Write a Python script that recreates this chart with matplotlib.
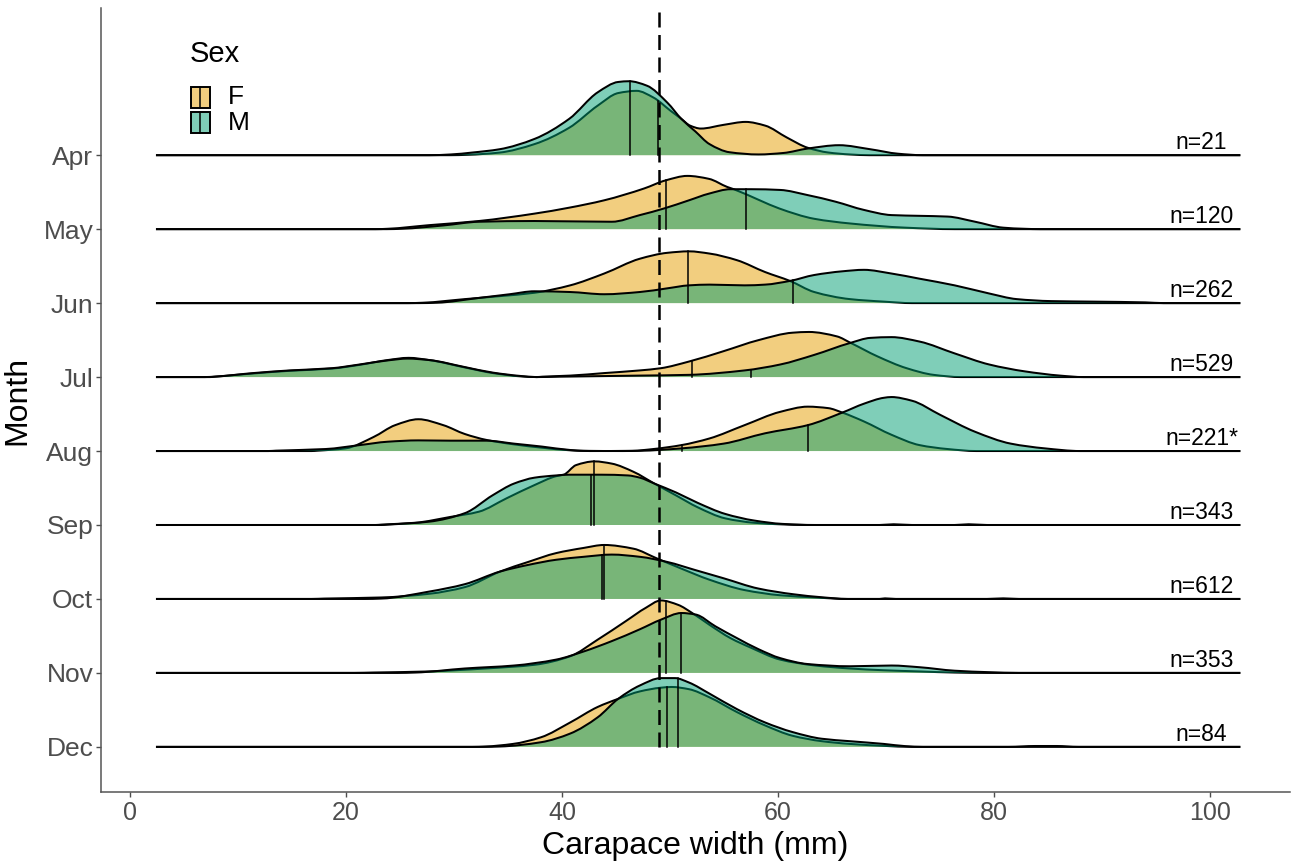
import numpy as np
import matplotlib
matplotlib.use("Agg")
import matplotlib.pyplot as plt
from matplotlib.patches import Rectangle, PathPatch
from matplotlib.path import Path

plt.rcParams['font.family'] = ['Liberation Sans', 'DejaVu Sans']

# months from top to bottom, sample sizes shown at the right
months = ["Apr", "May", "Jun", "Jul", "Aug", "Sep", "Oct", "Nov", "Dec"]
n_labels = ["n=21", "n=120", "n=262", "n=529", "n=221*", "n=343", "n=612", "n=353", "n=84"]

# density outlines: x in mm, height in ridge-spacing units
apr_f_x = [2.4, 29.7, 31.2, 34.2, 37.45, 40.65, 43.3, 45.2, 46.9, 48.45, 50.05, 51.05, 51.85, 52.85, 54.95, 57.0, 58.8, 60.8, 62.75, 64.65, 66.65, 68.45, 102.8]
apr_f_h = [0, 0, .005, .035, .15, .37, .67, .84, .87, .78, .6, .49, .40, .36, .41, .45, .40, .24, .10, .036, .01, 0, 0]
apr_m_x = [2.4, 27.7, 29.7, 31.7, 34.2, 37.45, 40.65, 43.3, 45.2, 46.2, 47.85, 49.75, 51.05, 52.35, 53.65, 55.5, 58.2, 60.5, 62.75, 65.65, 68.55, 71.1, 73.4, 102.8]
apr_m_h = [0, 0, .01, .036, .08, .22, .49, .85, .99, 1.0, .94, .71, .49, .32, .15, .04, .01, .03, .09, .135, .08, .02, 0, 0]

may_f_x = [2.4, 22.75, 23.85, 27.7, 32.3, 37.45, 40.65, 43.9, 47.6, 49.6, 51.6, 53.6, 55.3, 55.9, 58.3, 60.1, 63.35, 66.65, 71.8, 76.35, 102.8]
may_f_h = [0, 0, .005, .054, .11, .21, .29, .39, .55, .66, .72, .68, .57, .54, .39, .28, .14, .077, .02, 0, 0]
may_m_x = [2.4, 23.75, 25.15, 29.0, 32.3, 37.45, 44.6, 47.2, 49.45, 51.75, 53.6, 55.6, 57.5, 60.2, 62.75, 65.35, 67.95, 70.5, 73.1, 75.7, 78.25, 80.85, 82.8, 84.3, 102.8]
may_m_h = [0, 0, .005, .05, .1, .11, .1, .19, .28, .39, .48, .54, .54, .53, .46, .37, .26, .19, .18, .17, .1, .02, .005, 0, 0]

jun_f_x = [2.4, 25.75, 27.1, 31.0, 34.3, 37.45, 40.75, 43.9, 47.2, 49.75, 51.75, 53.65, 56.2, 58.8, 61.1, 63.35, 66.65, 69.8, 72.4, 102.8]
jun_f_h = [0, 0, .005, .054, .095, .14, .24, .4, .6, .68, .70, .67, .58, .42, .30, .15, .054, .02, 0, 0]
jun_m_x = [2.4, 26.7, 28.4, 32.3, 35.15, 37.45, 40.75, 43.9, 47.2, 49.75, 51.75, 53.65, 56.9, 58.8, 61.1, 63.35, 65.95, 67.95, 70.5, 73.1, 76.35, 79.55, 82.1, 85.3, 89.3, 94.0, 95.7, 102.8]
jun_m_h = [0, 0, .005, .07, .12, .16, .15, .12, .15, .2, .24, .25, .24, .25, .30, .38, .43, .45, .4, .33, .24, .13, .054, .027, .02, .01, 0, 0]

jul_f_x = [2.4, 7.4, 7.85, 11.5, 14.8, 18.7, 21.25, 23.85, 25.8, 27.7, 31.0, 33.6, 36.15, 37.65, 38.15, 40.75, 43.9, 47.2, 49.15, 51.75, 54.95, 58.2, 61.35, 62.85, 65.45, 66.75, 69.2, 71.9, 74.4, 76.95, 102.8]
jul_f_h = [0, 0, .005, .05, .085, .115, .165, .23, .26, .23, .13, .054, .01, 0, .005, .02, .054, .09, .12, .21, .35, .5, .6, .61, .55, .46, .28, .12, .03, 0, 0]
jul_m_x = [2.4, 6.9, 7.85, 11.5, 14.8, 18.7, 21.25, 23.85, 25.7, 27.7, 31.0, 33.6, 36.15, 37.65, 39.65, 47.2, 51.75, 56.9, 60.2, 63.35, 66.65, 68.55, 70.5, 73.1, 76.35, 79.55, 82.85, 86.1, 88.3, 102.8]
jul_m_h = [0, 0, .006, .055, .09, .12, .17, .225, .25, .23, .135, .06, .015, 0, .005, .02, .03, .09, .17, .3, .46, .53, .54, .48, .32, .17, .077, .02, 0, 0]

aug_f_x = [2.4, 16.8, 17.4, 19.95, 22.55, 24.55, 26.7, 29.0, 31.0, 33.0, 35.55, 38.15, 40.75, 42.6, 46.5, 48.45, 51.05, 53.65, 56.9, 60.2, 62.75, 64.65, 65.95, 67.95, 70.5, 73.1, 75.7, 78.35, 102.8]
aug_f_h = [0, 0, .005, .036, .19, .35, .43, .35, .23, .15, .09, .045, .01, 0, .003, .027, .08, .17, .35, .53, .6, .58, .52, .4, .22, .08, .027, 0, 0]
aug_m_x = [2.4, 12.8, 13.5, 18.1, 21.25, 23.85, 26.7, 29.7, 33.0, 35.55, 38.15, 40.75, 42.0, 45.6, 47.2, 51.05, 54.95, 58.8, 62.75, 65.95, 67.95, 69.8, 70.5, 72.4, 75.0, 78.25, 81.55, 84.7, 88.0, 102.8]
aug_m_h = [0, 0, .005, .027, .08, .126, .144, .14, .14, .1, .06, .014, .003, 0, .003, .036, .1, .24, .35, .52, .64, .72, .73, .68, .49, .26, .1, .036, 0, 0]

sep_f_x = [2.4, 22.75, 23.25, 26.4, 29.7, 32.3, 34.85, 37.45, 39.45, 40.15, 41.3, 43.0, 44.6, 46.6, 48.55, 50.55, 52.55, 55.1, 57.8, 60.4, 62.45, 102.8]
sep_f_h = [0, 0, .005, .03, .11, .18, .36, .54, .66, .68, .81, .86, .83, .72, .56, .40, .24, .09, .03, .008, 0, 0]
sep_m_x = [2.4, 23.25, 23.85, 27.7, 31.0, 33.55, 35.55, 37.45, 39.45, 40.6, 43.6, 46.1, 47.2, 48.55, 50.55, 52.55, 55.1, 57.8, 60.4, 63.45, 69.4, 70.7, 72.4, 76.35, 77.65, 79.35, 102.8]
sep_m_h = [0, 0, .005, .045, .16, .4, .56, .64, .67, .68, .68, .67, .64, .56, .44, .3, .15, .06, .015, 0, 0, .01, 0, 0, .01, 0, 0]

oct_f_x = [2.4, 16.8, 18.0, 23.25, 27.7, 31.0, 34.25, 36.85, 39.45, 42.0, 43.9, 46.6, 48.75, 51.05, 53.65, 56.9, 60.2, 63.45, 66.45, 102.8]
oct_f_h = [0, 0, .005, .02, .07, .16, .37, .5, .62, .69, .73, .68, .55, .41, .26, .12, .05, .02, 0, 0]
oct_m_x = [2.4, 21.75, 23.25, 27.7, 31.0, 34.25, 36.85, 39.45, 42.0, 44.6, 47.2, 49.75, 52.35, 54.95, 58.2, 61.45, 64.05, 66.45, 69.4, 69.9, 70.9, 79.35, 80.85, 82.3, 102.8]
oct_m_h = [0, 0, .005, .1, .2, .37, .46, .53, .57, .6, .57, .5, .39, .28, .14, .063, .023, 0, 0, .008, 0, 0, .008, 0, 0]

nov_f_x = [2.4, 20.75, 22.55, 27.7, 32.9, 37.45, 40.75, 43.3, 45.9, 47.75, 49.15, 50.75, 52.05, 53.65, 55.6, 57.5, 60.2, 63.45, 66.65, 69.8, 73.1, 76.35, 79.35, 102.8]
nov_f_h = [0, 0, .005, .02, .06, .11, .225, .45, .7, .88, .98, .92, .81, .65, .47, .34, .18, .1, .06, .036, .02, .005, 0, 0]
nov_m_x = [2.4, 24.75, 26.4, 31.0, 35.55, 39.45, 42.0, 44.6, 47.2, 49.15, 51.05, 52.35, 54.2, 56.2, 58.2, 60.2, 62.75, 66.65, 70.5, 73.1, 76.35, 79.55, 82.3, 102.8]
nov_m_h = [0, 0, .005, .06, .1, .18, .29, .43, .59, .72, .81, .79, .63, .47, .32, .2, .12, .09, .1, .077, .03, .01, 0, 0]

dec_f_x = [2.4, 31.7, 32.9, 35.45, 38.05, 40.75, 43.3, 45.2, 47.2, 49.15, 50.15, 51.75, 53.65, 56.2, 58.8, 61.35, 64.05, 66.65, 69.8, 72.4, 102.8]
dec_f_h = [0, 0, .005, .04, .13, .33, .54, .65, .75, .8, .81, .78, .67, .47, .29, .15, .077, .04, .014, 0, 0]
dec_m_x = [2.4, 32.7, 34.25, 38.05, 40.75, 43.3, 45.2, 47.2, 49.15, 50.45, 51.75, 53.65, 56.2, 58.8, 61.35, 64.05, 66.65, 69.8, 71.8, 73.4, 81.35, 83.8, 85.8, 87.8, 102.8]
dec_m_h = [0, 0, .005, .063, .18, .4, .65, .83, .93, .93, .87, .72, .51, .33, .2, .11, .077, .04, .01, 0, 0, .012, .012, 0, 0]

# medians per month (mm)
median_f = [48.9, 49.6, 51.7, 52.0, 51.1, 43.0, 43.9, 49.6, 49.7]
median_m = [46.3, 57.0, 61.35, 57.5, 62.8, 42.7, 43.7, 51.0, 50.7]

ref_width = 49.0

curves_f = [(apr_f_x, apr_f_h), (may_f_x, may_f_h), (jun_f_x, jun_f_h), (jul_f_x, jul_f_h), (aug_f_x, aug_f_h),
            (sep_f_x, sep_f_h), (oct_f_x, oct_f_h), (nov_f_x, nov_f_h), (dec_f_x, dec_f_h)]
curves_m = [(apr_m_x, apr_m_h), (may_m_x, may_m_h), (jun_m_x, jun_m_h), (jul_m_x, jul_m_h), (aug_m_x, aug_m_h),
            (sep_m_x, sep_m_h), (oct_m_x, oct_m_h), (nov_m_x, nov_m_h), (dec_m_x, dec_m_h)]

col_f = "#E69F00"
col_m = "#009E73"


def tangents(x, y):
    # monotone (pchip-style) slopes so the drawn outline never dips below zero
    h = np.diff(x)
    d = np.diff(y) / h
    m = np.zeros_like(y)
    m[0], m[-1] = d[0], d[-1]
    for k in range(1, len(y) - 1):
        if d[k - 1] * d[k] > 0:
            w1 = 2 * h[k] + h[k - 1]
            w2 = h[k] + 2 * h[k - 1]
            m[k] = (w1 + w2) / (w1 / d[k - 1] + w2 / d[k])
    return m


def smooth_verts(x, y, m):
    verts = [(x[0], y[0])]
    codes = [Path.MOVETO]
    for k in range(len(x) - 1):
        h = x[k + 1] - x[k]
        verts += [(x[k] + h / 3, y[k] + m[k] * h / 3),
                  (x[k + 1] - h / 3, y[k + 1] - m[k + 1] * h / 3),
                  (x[k + 1], y[k + 1])]
        codes += [Path.CURVE4] * 3
    return verts, codes


def height_at(x, y, m, q):
    k = min(np.searchsorted(x, q) - 1, len(x) - 2)
    h = x[k + 1] - x[k]
    t = (q - x[k]) / h
    return ((2 * t**3 - 3 * t**2 + 1) * y[k] + (t**3 - 2 * t**2 + t) * h * m[k]
            + (-2 * t**3 + 3 * t**2) * y[k + 1] + (t**3 - t**2) * h * m[k + 1])


W, H = 1291, 861
fig = plt.figure(figsize=(W / 100, H / 100), dpi=100)
ax = fig.add_axes([101 / W, 1 - 792 / H, (1290 - 101) / W, (792 - 8) / H])

n = len(months)
for i in range(n):
    base = n - 1 - i
    for (cx, ch), med, col in [(curves_f[i], median_f[i], col_f), (curves_m[i], median_m[i], col_m)]:
        cx = np.array(cx, float)
        ch = np.array(ch, float)
        m = tangents(cx, ch)
        verts, codes = smooth_verts(cx, base + ch, m)
        fill_v = verts + [(cx[-1], base), (cx[0], base), (cx[0], base)]
        fill_c = codes + [Path.LINETO, Path.LINETO, Path.CLOSEPOLY]
        ax.add_patch(PathPatch(Path(fill_v, fill_c), facecolor=col, alpha=0.5, edgecolor="none"))
        ax.add_patch(PathPatch(Path(verts, codes), facecolor="none", edgecolor="black", lw=1.45))
        top = height_at(cx, ch, m, med)
        ax.plot([med, med], [base, base + top], color="black", lw=1.1)
    ax.text(99.2, base + 0.17, n_labels[i], ha="center", va="center", fontsize=16.5, color="black")

ax.plot([ref_width, ref_width], [0, 10], color="black", lw=1.8, dashes=(6, 3))

ax.set_xlim(-2.69, 107.4)
ax.set_ylim(-0.61, 9.99)
ax.set_xticks([0, 20, 40, 60, 80, 100])
ax.set_yticks(range(n))
ax.set_yticklabels(months[::-1])
ax.tick_params(axis="both", colors="#4D4D4D", length=3.5, width=1)
ax.tick_params(axis="x", labelsize=18, pad=3)
ax.tick_params(axis="y", labelsize=19, pad=2)
for s in ["top", "right"]:
    ax.spines[s].set_visible(False)
for s in ["left", "bottom"]:
    ax.spines[s].set_color("#555555")
    ax.spines[s].set_linewidth(1.1)
ax.set_xlabel("Carapace width (mm)", fontsize=23, labelpad=4)
ax.set_ylabel("Month", fontsize=23, labelpad=8)


# legend drawn by hand so the key glyphs carry the median mark
def px(x, y):
    return x / W, 1 - y / H


fig.text(*px(190, 54), "Sex", fontsize=21, va="center", ha="left")
for (y0, y1), col, lab in [((87, 108), col_f, "F"), ((112, 133), col_m, "M")]:
    x0, yb = px(191, y1)
    fig.patches.append(Rectangle((x0, yb), 19 / W, (y1 - y0) / H, transform=fig.transFigure,
                                 facecolor=col, alpha=0.5, edgecolor="none"))
    fig.patches.append(Rectangle((x0, yb), 19 / W, (y1 - y0) / H, transform=fig.transFigure,
                                 facecolor="none", edgecolor="black", lw=1.4))
    fig.lines.append(plt.Line2D([200.5 / W, 200.5 / W], [1 - y0 / H, 1 - y1 / H],
                                transform=fig.transFigure, color="black", lw=1.1))
    fig.text(*px(228, (y0 + y1) / 2), lab, fontsize=19, va="center", ha="left")

fig.savefig("out.png", dpi=100)
